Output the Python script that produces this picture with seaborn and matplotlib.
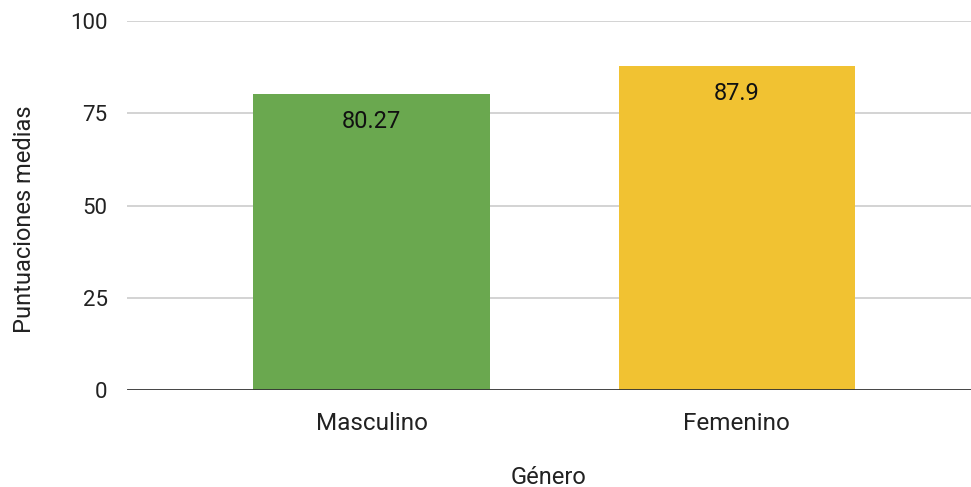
import matplotlib
matplotlib.use("Agg")
import matplotlib.pyplot as plt
import seaborn as sns
import pandas as pd

# Mean scores by gender
generos = ["Masculino", "Femenino"]
puntuaciones = [80.27, 87.9]
etiquetas = ["80.27", "87.9"]
colores = ["#6aa84f", "#f1c232"]
y_ticks = [0, 25, 50, 75, 100]

df = pd.DataFrame({"Género": generos, "Puntuaciones medias": puntuaciones})

sns.set_theme(style="white")
plt.rcParams["font.family"] = ["Roboto", "DejaVu Sans"]

fig = plt.figure(figsize=(9.71, 4.87), dpi=100)
ax = fig.add_axes([127 / 971, 97 / 487, 844 / 971, 369 / 487])

sns.barplot(data=df, x="Género", y="Puntuaciones medias", hue="Género",
            palette=colores, saturation=1, dodge=False, width=0.647,
            legend=False, errorbar=None, ax=ax, linewidth=0, zorder=3)

ax.set_ylim(0, 100)
ax.set_xlim(-0.670, 1.642)
ax.set_yticks(y_ticks)
ax.set_yticklabels([str(t) for t in y_ticks])

# gridlines and baseline
for t in y_ticks[1:]:
    ax.axhline(t, color="#cccccc", linewidth=1.2, zorder=1)
ax.axhline(0, color="#333333", linewidth=2, zorder=4)

for s in ax.spines.values():
    s.set_visible(False)

ax.tick_params(axis="both", length=0, colors="#222222")
ax.tick_params(axis="y", pad=14, labelsize=16)
ax.tick_params(axis="x", pad=16, labelsize=17.5)

ax.set_xlabel("Género", fontsize=17, color="#222222", labelpad=22)
ax.set_ylabel("Puntuaciones medias", fontsize=17, color="#222222")
ax.yaxis.set_label_coords(-0.108, 0.463)

# value labels inside the bars
for i, (v, lab) in enumerate(zip(puntuaciones, etiquetas)):
    ax.annotate(lab, xy=(i, v), xytext=(0, -28), textcoords="offset pixels",
                ha="center", va="center", fontsize=17, color="#111111", zorder=5)

fig.savefig("out.png", dpi=100)
